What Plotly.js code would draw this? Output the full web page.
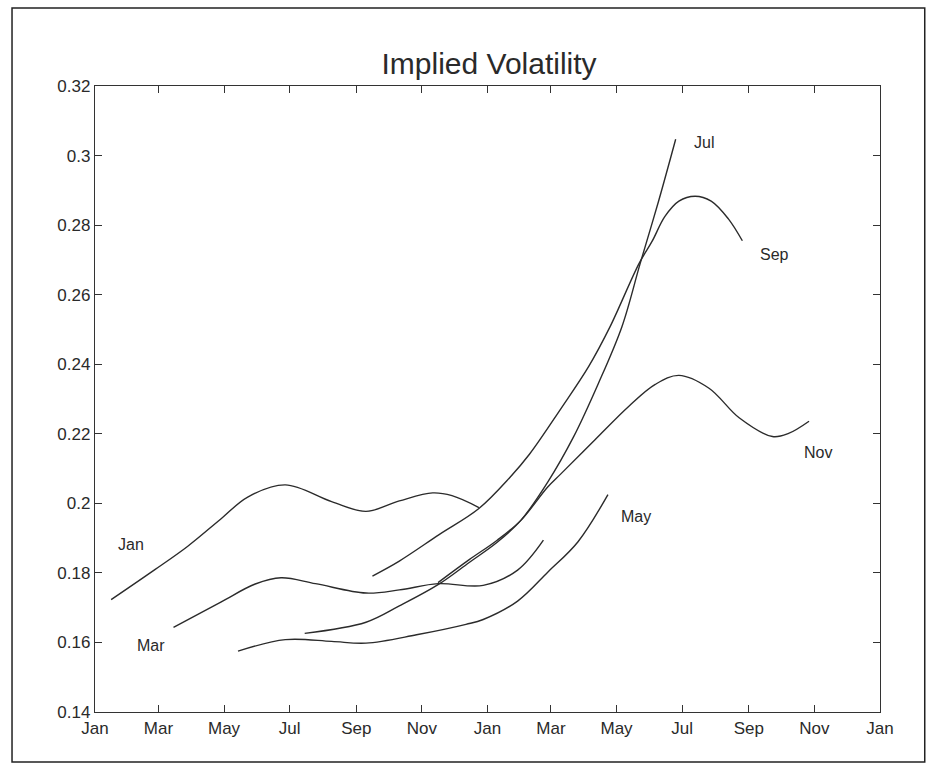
<!DOCTYPE html>
<html>
<head>
<meta charset="utf-8">
<script src="https://cdn.plot.ly/plotly-3.0.1.min.js"></script>
<style>
  html, body { margin: 0; padding: 0; background: #fff; }
  #chart { width: 928px; height: 769px; }
</style>
</head>
<body>
<div id="chart"></div>
<script>
// ---- data (implied volatility by option expiry month) ----
const seriesNames = ['Jan', 'Mar', 'May', 'Jul', 'Sep', 'Nov'];

const janDates = ['2001-01-16','2001-02-26','2001-03-28','2001-04-28','2001-05-23','2001-06-27','2001-08-09','2001-09-10','2001-10-11','2001-11-11','2001-11-29','2001-12-24'];
const janVol   = [0.1723, 0.1810, 0.1876, 0.1955, 0.2018, 0.2053, 0.2005, 0.1977, 0.2007, 0.2030, 0.2022, 0.1988];

const marDates = ['2001-03-15','2001-04-28','2001-05-30','2001-06-23','2001-07-25','2001-09-10','2001-10-11','2001-11-16','2001-12-28','2002-01-29','2002-02-22'];
const marVol   = [0.1643, 0.1716, 0.1768, 0.1786, 0.1769, 0.1742, 0.1751, 0.1769, 0.1764, 0.1808, 0.1894];

const mayDates = ['2001-05-14','2001-06-27','2001-08-09','2001-09-10','2001-10-27','2001-12-12','2001-12-28','2002-01-29','2002-02-26','2002-03-26','2002-04-23'];
const mayVol   = [0.1575, 0.1608, 0.1603, 0.1598, 0.1622, 0.1652, 0.1666, 0.1719, 0.1802, 0.1889, 0.2025];

const julDates = ['2001-07-15','2001-09-10','2001-10-11','2001-11-16','2001-12-15','2002-01-10','2002-02-01','2002-02-26','2002-03-22','2002-04-14','2002-05-06','2002-05-23','2002-06-09','2002-06-25'];
const julVol   = [0.1626, 0.1658, 0.1705, 0.1766, 0.1830, 0.1888, 0.1951, 0.2061, 0.2191, 0.2344, 0.2508, 0.2690, 0.2868, 0.3047];

const sepDates = ['2001-09-16','2001-10-11','2001-11-17','2001-12-24','2002-01-22','2002-02-09','2002-03-10','2002-04-05','2002-04-25','2002-05-22','2002-06-03','2002-06-15','2002-06-28','2002-07-13','2002-07-28','2002-08-13','2002-08-26'];
const sepVol   = [0.1791, 0.1834, 0.1910, 0.1985, 0.2075, 0.2141, 0.2271, 0.2393, 0.2508, 0.2690, 0.2753, 0.2825, 0.2869, 0.2883, 0.2869, 0.2818, 0.2755];

const novDates = ['2001-11-16','2001-12-15','2002-01-10','2002-02-01','2002-02-26','2002-03-10','2002-04-11','2002-05-12','2002-06-06','2002-06-28','2002-07-26','2002-08-23','2002-09-23','2002-10-08','2002-10-27'];
const novVol   = [0.1772, 0.1838, 0.1894, 0.1951, 0.2047, 0.2084, 0.2183, 0.2278, 0.2342, 0.2368, 0.2331, 0.2246, 0.2192, 0.2201, 0.2236];

const yTickVals  = [0.14, 0.16, 0.18, 0.2, 0.22, 0.24, 0.26, 0.28, 0.3, 0.32];
const yTickText  = ['0.14', '0.16', '0.18', '0.2', '0.22', '0.24', '0.26', '0.28', '0.3', '0.32'];

// ---- build ----
const allX = [janDates, marDates, mayDates, julDates, sepDates, novDates];
const allY = [janVol, marVol, mayVol, julVol, sepVol, novVol];

const lineColor = '#2b2b2b';
const traces = allX.map((xs, i) => ({
  type: 'scatter',
  mode: 'lines',
  name: seriesNames[i],
  x: xs,
  y: allY[i],
  line: { color: lineColor, width: 1.4, shape: 'spline', smoothing: 1.0 },
  hoverinfo: 'x+y+name'
}));

// label placement: label attached to start (Jan, Mar) or end (others) of its curve
const labelAtStart = [true, true, false, false, false, false];
const labelShift = [[20, 55], [-23, -18], [28, -22], [28, -3], [32, -14], [9, -31]];
const annotations = seriesNames.map((nm, i) => {
  const n = allX[i].length;
  const k = labelAtStart[i] ? 0 : n - 1;
  return {
    x: allX[i][k], y: allY[i][k], xref: 'x', yref: 'y',
    text: nm, showarrow: false,
    xshift: labelShift[i][0], yshift: labelShift[i][1],
    font: { family: 'Liberation Sans, Arial, sans-serif', size: 16, color: '#2a2a2a' }
  };
});

const axisFont = { family: 'Liberation Sans, Arial, sans-serif', size: 17, color: '#2a2a2a' };

const layout = {
  width: 928, height: 769,
  margin: { l: 95, r: 48, t: 86, b: 57 },
  paper_bgcolor: '#ffffff',
  plot_bgcolor: '#ffffff',
  showlegend: false,
  title: {
    text: 'Implied Volatility',
    font: { family: 'Liberation Sans, Arial, sans-serif', size: 30, color: '#2a2a2a' },
    x: 0.527, xanchor: 'center', y: 0.918, yanchor: 'middle'
  },
  xaxis: {
    type: 'date',
    range: ['2001-01-01', '2003-01-01'],
    tick0: '2001-01-01', dtick: 'M2', tickformat: '%b',
    ticks: 'inside', ticklen: 7, tickcolor: '#333', tickwidth: 1,
    showline: true, linecolor: '#333', linewidth: 1.2, mirror: 'ticks',
    showgrid: false, zeroline: false,
    tickfont: axisFont
  },
  yaxis: {
    range: [0.14, 0.32],
    tickmode: 'array', tickvals: yTickVals, ticktext: yTickText,
    ticks: 'inside', ticklen: 7, tickcolor: '#333', tickwidth: 1,
    showline: true, linecolor: '#333', linewidth: 1.2, mirror: 'ticks',
    showgrid: false, zeroline: false,
    tickfont: axisFont
  },
  annotations: annotations,
  shapes: [{
    type: 'rect', xref: 'paper', yref: 'paper',
    x0: -0.1057, x1: 1.057, y0: -0.0799, y1: 1.1246,
    line: { color: '#222', width: 1.5 }, fillcolor: 'rgba(0,0,0,0)', layer: 'below'
  }]
};

Plotly.newPlot('chart', traces, layout, { displayModeBar: false, staticPlot: true });
</script>
</body>
</html>
